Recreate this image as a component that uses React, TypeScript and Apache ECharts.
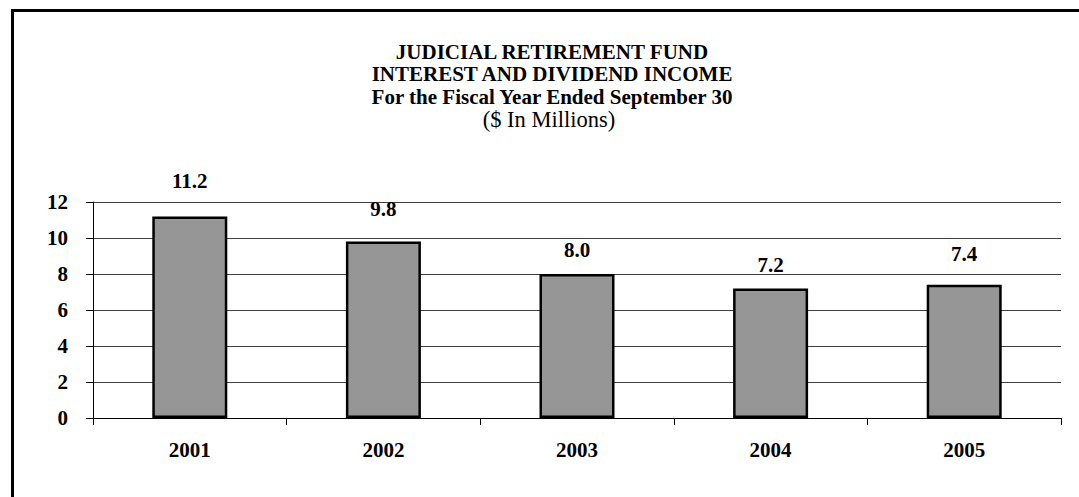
import React, { useEffect, useRef } from "react";
import * as echarts from "echarts";

const YEARS = ["2001", "2002", "2003", "2004", "2005"];
const INCOME = [11.2, 9.8, 8.0, 7.2, 7.4];
const TITLE_LINES = [
  "JUDICIAL RETIREMENT FUND",
  "INTEREST AND DIVIDEND INCOME",
  "For the Fiscal Year Ended September 30",
];
const SUBTITLE = "($ In Millions)";

// label lift above each bar (styling, as in the original document)
const LABEL_LIFT = [25, 22.3, 13.2, 12.8, 20.5];

const FONT = "'Liberation Serif', 'Times New Roman', serif";

export default function App() {
  const ref = useRef<HTMLDivElement>(null);
  useEffect(() => {
    if (!ref.current) return;
    const chart = echarts.init(ref.current, undefined, { renderer: "svg" });
    const titleCx = 552;
    const titleY = [51.5, 74.3, 97];
    chart.setOption({
      animation: false,
      backgroundColor: "#ffffff",
      textStyle: { fontFamily: FONT },
      graphic: [
        {
          type: "rect",
          shape: { x: 12.5, y: 10.5, width: 1200, height: 700 },
          style: { fill: "none", stroke: "#000", lineWidth: 3 },
          silent: true,
        },
        ...TITLE_LINES.map((t, i) => ({
          type: "text",
          x: titleCx,
          y: titleY[i],
          style: {
            text: t,
            fill: "#000",
            font: `bold 21px ${FONT}`,
            textAlign: "center",
            textVerticalAlign: "middle",
          },
        })),
        {
          type: "text",
          x: 549,
          y: 119.5,
          style: {
            text: SUBTITLE,
            fill: "#000",
            font: `22.5px ${FONT}`,
            textAlign: "center",
            textVerticalAlign: "middle",
          },
        },
      ],
      grid: { left: 93, right: 18, top: 202, bottom: 79, containLabel: false },
      xAxis: {
        type: "category",
        data: YEARS,
        axisLine: { show: true, lineStyle: { color: "#000", width: 1 } },
        axisTick: { show: true, length: 7, lineStyle: { color: "#000", width: 1 } },
        axisLabel: {
          margin: 21.5,
          color: "#000",
          fontFamily: FONT,
          fontWeight: "bold",
          fontSize: 21,
        },
      },
      yAxis: {
        type: "value",
        min: 0,
        max: 12,
        interval: 2,
        axisLine: { show: true, lineStyle: { color: "#000", width: 1 } },
        axisTick: { show: true, length: 7, lineStyle: { color: "#000", width: 1 } },
        axisLabel: {
          margin: 25,
          color: "#000",
          fontFamily: FONT,
          fontWeight: "bold",
          fontSize: 21,
        },
        splitLine: { show: true, lineStyle: { color: "#404040", width: 1 } },
      },
      series: [
        {
          type: "bar",
          barWidth: 75,
          data: INCOME.map((v, i) => ({
            value: v,
            label: { distance: LABEL_LIFT[i] },
          })),
          itemStyle: { color: "#969696", borderColor: "#000", borderWidth: 2.5 },
          label: {
            show: true,
            position: "top",
            color: "#000",
            fontFamily: FONT,
            fontWeight: "bold",
            fontSize: 21,
            formatter: (p: any) => Number(p.value).toFixed(1),
          },
        },
      ],
    });
    return () => chart.dispose();
  }, []);
  return (
    <div
      ref={ref}
      style={{ position: "fixed", left: 0, top: 0, width: 1079, height: 497 }}
    />
  );
}
